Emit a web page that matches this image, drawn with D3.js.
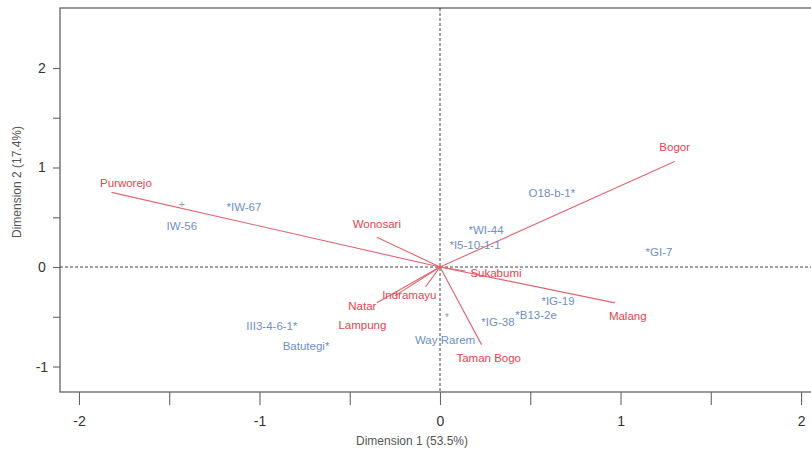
<!DOCTYPE html>
<html>
<head>
<meta charset="utf-8">
<script src="https://cdn.jsdelivr.net/npm/d3@7"></script>
<style>
  html, body { margin: 0; padding: 0; background: #fff; }
  svg { display: block; }
</style>
</head>
<body>
<svg id="chart" width="811" height="453"></svg>
<script>
// ---- Data ----
// Environment variables (red arrows): arrow tip and label position, data units
const envNames  = ["Purworejo", "Bogor", "Malang", "Taman Bogo", "Wonosari", "Sukabumi", "Indramayu", "Natar", "Lampung"];
const envX      = [-1.82, 1.30, 0.97, 0.23, -0.35, 0.14, -0.08, -0.35, -0.25];
const envY      = [0.75, 1.06, -0.36, -0.78, 0.30, -0.04, -0.20, -0.36, -0.29];
const envLabelX = [-1.74, 1.30, 1.04, 0.27, -0.35, 0.31, -0.17, -0.43, -0.43];
const envLabelY = [0.84, 1.21, -0.49, -0.91, 0.43, -0.06, -0.28, -0.39, -0.58];

// Genotypes (blue labels)
const genoNames = ["IW-56", "*IW-67", "O18-b-1*", "*WI-44", "*I5-10-1-1", "*GI-7", "*IG-19", "*B13-2e", "*IG-38", "III3-4-6-1*", "Batutegi*", "Way Rarem"];
const genoX     = [-1.43, -1.086, 0.62, 0.255, 0.194, 1.213, 0.654, 0.532, 0.321, -0.931, -0.742, 0.028];
const genoY     = [0.41, 0.603, 0.744, 0.372, 0.221, 0.151, -0.342, -0.482, -0.553, -0.593, -0.794, -0.734];

// Separate point markers
const markSymbols = ["+", "*"];
const markX       = [-1.43, 0.039];
const markY       = [0.633, -0.503];

// Axes
const xTicksMajor = [-2, -1, 0, 1, 2];
const xTicksMinor = [-1.5, -0.5, 0.5, 1.5];
const yTicksMajor = [2, 1, 0, -1];
const yTicksMinor = [1.5, 0.5, -0.5];
const xTitle = "Dimension 1 (53.5%)";
const yTitle = "Dimension 2 (17.4%)";

// ---- Drawing ----
const svg = d3.select("#chart");
const pL = 60, pR = 820, pT = 8, pB = 392;
const x = d3.scaleLinear().domain([-2.105, 2.105]).range([pL, pR]);
const y = d3.scaleLinear().domain([-1.256, 2.603]).range([pB, pT]);

const RED_LINE = "#dc6670", RED_TEXT = "#e2444f", BLUE = "#6f8fc6";
const FONT = "'Liberation Sans', Arial, sans-serif";
const fmt = d => xTicksMajor.includes(d) || yTicksMajor.includes(d) ? String(d) : "";

// Box
svg.append("rect").attr("x", pL).attr("y", pT)
  .attr("width", pR - pL).attr("height", pB - pT)
  .attr("fill", "none").attr("stroke", "#555").attr("stroke-width", 1.2);

// Reference dashed lines
svg.append("line").attr("x1", pL).attr("x2", pR).attr("y1", y(0)).attr("y2", y(0))
  .attr("stroke", "#444").attr("stroke-dasharray", "3,2").attr("stroke-width", 1);
svg.append("line").attr("x1", x(0)).attr("x2", x(0)).attr("y1", pT).attr("y2", pB)
  .attr("stroke", "#444").attr("stroke-dasharray", "3,2").attr("stroke-width", 1);

// X axis
const xAxis = svg.append("g").attr("transform", `translate(0,${pB})`);
xAxis.call(d3.axisBottom(x).tickValues(xTicksMajor.concat(xTicksMinor))
  .tickSize(13).tickPadding(8)
  .tickFormat(d => xTicksMajor.includes(d) ? String(d) : ""));
xAxis.select(".domain").remove();
xAxis.selectAll(".tick line").attr("stroke", "#666").attr("stroke-width", 1.1);
xAxis.selectAll(".tick text").attr("font-family", FONT).attr("font-size", 14)
  .attr("fill", "#333").attr("dy", "0.9em");

// Y axis
const yAxis = svg.append("g").attr("transform", `translate(${pL},0)`);
yAxis.call(d3.axisLeft(y).tickValues(yTicksMajor.concat(yTicksMinor))
  .tickSize(7).tickPadding(16)
  .tickFormat(d => yTicksMajor.includes(d) ? String(d) : ""));
yAxis.select(".domain").remove();
yAxis.selectAll(".tick line").attr("stroke", "#666").attr("stroke-width", 1.1);
yAxis.selectAll(".tick text").attr("font-family", FONT).attr("font-size", 14)
  .attr("fill", "#333").attr("text-anchor", "middle").attr("dx", "0.35em");

// Axis titles
svg.append("text").attr("x", 412).attr("y", 445).attr("text-anchor", "middle")
  .attr("font-family", FONT).attr("font-size", 12).attr("fill", "#555").text(xTitle);
svg.append("text").attr("transform", `translate(21,182) rotate(-90)`).attr("text-anchor", "middle")
  .attr("font-family", FONT).attr("font-size", 12).attr("fill", "#555").text(yTitle);

// Arrows for environments
const env = envNames.map((n, i) => ({ n, x: envX[i], y: envY[i], lx: envLabelX[i], ly: envLabelY[i] }));
svg.append("g").selectAll("line").data(env).join("line")
  .attr("x1", x(0)).attr("y1", y(0))
  .attr("x2", d => x(d.x)).attr("y2", d => y(d.y))
  .attr("stroke", RED_LINE).attr("stroke-width", 1.1);
svg.append("g").selectAll("text").data(env).join("text")
  .attr("x", d => x(d.lx)).attr("y", d => y(d.ly))
  .attr("text-anchor", "middle").attr("dominant-baseline", "central")
  .attr("font-family", FONT).attr("font-size", 11.5).attr("fill", RED_TEXT)
  .text(d => d.n);

// Genotype labels
const geno = genoNames.map((n, i) => ({ n, x: genoX[i], y: genoY[i] }));
svg.append("g").selectAll("text").data(geno).join("text")
  .attr("x", d => x(d.x)).attr("y", d => y(d.y))
  .attr("text-anchor", "middle").attr("dominant-baseline", "central")
  .attr("font-family", FONT).attr("font-size", 11.5).attr("fill", BLUE)
  .text(d => d.n);

// Markers
const marks = markSymbols.map((s, i) => ({ s, x: markX[i], y: markY[i] }));
svg.append("g").selectAll("text").data(marks).join("text")
  .attr("x", d => x(d.x)).attr("y", d => y(d.y))
  .attr("text-anchor", "middle").attr("dominant-baseline", "central")
  .attr("font-family", FONT).attr("font-size", 10).attr("fill", "#999")
  .text(d => d.s);
</script>
</body>
</html>
